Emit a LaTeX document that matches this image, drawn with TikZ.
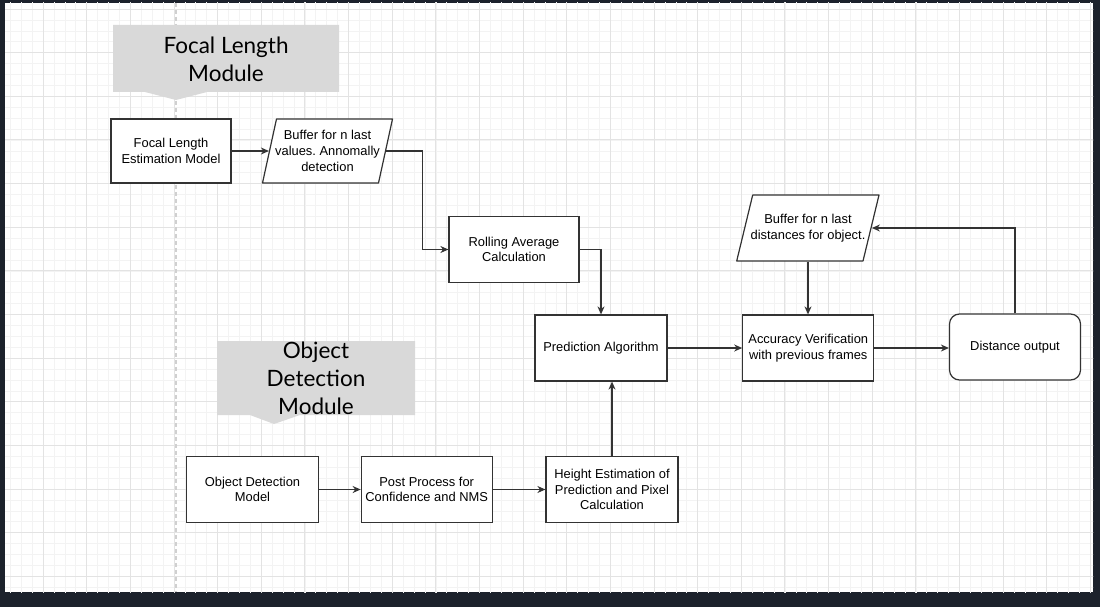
\documentclass[tikz,border=0pt]{standalone}
\usepackage{fontspec}
\setmainfont{Liberation Sans}
\newfontfamily\latofont{Lato}
\usetikzlibrary{arrows.meta}
\definecolor{framedark}{HTML}{1C222C}
\definecolor{calloutgray}{HTML}{D9D9D9}
\definecolor{boxline}{HTML}{333333}
\definecolor{gridmin}{HTML}{F3F3F3}
\definecolor{gridmaj}{HTML}{E3E3E3}
\definecolor{dashgray}{HTML}{D0D0D0}
\frenchspacing

\begin{document}
\begin{tikzpicture}[x=1pt,y=-1pt,
    box/.style={draw=boxline,line width=1.2pt,fill=white,minimum width=131pt,minimum height=66pt,inner sep=0pt,align=center,font=\fontsize{12.9}{15.7}\selectfont},
    slantbox/.style={box,draw=none,fill=none},
    para/.style={draw=boxline,line width=1.2pt,fill=white,line join=round},
    flow/.style={draw=boxline,line width=1.2pt,-{Stealth[length=8pt,width=7pt]}},
    module/.style={align=center,font=\latofont\fontsize{22.5}{28}\selectfont}]
\useasboundingbox (0,0) rectangle (1100,607);
\fill[framedark] (0,0) rectangle (1100,607);
\fill[white] (5,3) rectangle (1093,592);
\begin{scope}
    \clip (5,3) rectangle (1093,592);
    \draw[gridmin,line width=0.6pt,step=10.91pt,xshift=-0.6pt,yshift=-9pt] (-20,627) grid (1120,-20);
    \draw[gridmaj,line width=0.9pt,step=43.64pt,xshift=-0.6pt,yshift=-9pt] (-20,627) grid (1120,-20);
\end{scope}
\draw[dashgray,line width=2pt,dash pattern=on 4pt off 3pt] (176,3) -- (176,592);

% module callouts
\fill[calloutgray] (113,25) -- (339,25) -- (339,92) -- (207,92) -- (176,100) -- (145,92) -- (113,92) -- cycle;
\node[module] (focalmod) at (226,59) {Focal Length\\Module};
\fill[calloutgray] (217,341) -- (415,341) -- (415,415) -- (300,415) -- (274,424) -- (250,415) -- (217,415) -- cycle;
\node[module] (objmod) at (316,378) {Object\\Detection\\Module};

% focal length branch
\node[box,minimum width=120pt,minimum height=64pt] (focal) at (171,151) {Focal Length\\Estimation Model};
\coordinate (fbufc) at (327.5,151);
\filldraw[para] (fbufc) ++(-51,-32) -- ++(116,0) -- ++(-14,64) -- ++(-116,0) -- cycle;
\node[slantbox,minimum width=116pt,minimum height=64pt] (fbuf) at (fbufc) {Buffer for n last\\values. Annomally\\detection};
\node[box,minimum width=130pt] (rolling) at (514,249.5) {Rolling Average\\Calculation};

% prediction and output
\node[box,minimum width=132pt] (pred) at (601,348) {Prediction Algorithm};
\node[box] (acc) at (808.3,348) {Accuracy Verification\\with previous frames};
\coordinate (dbufc) at (808,228);
\filldraw[para] (dbufc) ++(-55.3,-33) -- ++(126.3,0) -- ++(-16,66) -- ++(-126.3,0) -- cycle;
\node[slantbox,minimum width=126.6pt] (dbuf) at (dbufc) {Buffer for n last\\distances for object.};
\node[box,rounded corners=10pt] (dist) at (1015,347) {Distance output};

% object detection branch
\node[box,minimum width=132pt] (odm) at (252.5,489.5) {Object Detection\\Model};
\node[box] (post) at (426.7,489.5) {Post Process for\\Confidence and NMS};
\node[box,minimum width=132pt] (height) at (612,489.5) {Height Estimation of\\Prediction and Pixel\\Calculation};

\draw[flow] (focal) -- (fbuf);
\draw[flow] (fbuf.east) -- ++(36,0) |- (rolling.west);
\draw[flow] (rolling.east) -| (pred.north);
\draw[flow] (pred) -- (acc);
\draw[flow] (dbuf.south) -- (dbuf.south |- acc.north);
\draw[flow] (acc.east) -- (acc.east -| dist.west);
\draw[flow] (dist.north) |- (dbuf.east);
\draw[flow] (odm) -- (post);
\draw[flow] (post) -- (height);
\draw[flow] (height.north) -- (height.north |- pred.south);
\end{tikzpicture}
\end{document}
